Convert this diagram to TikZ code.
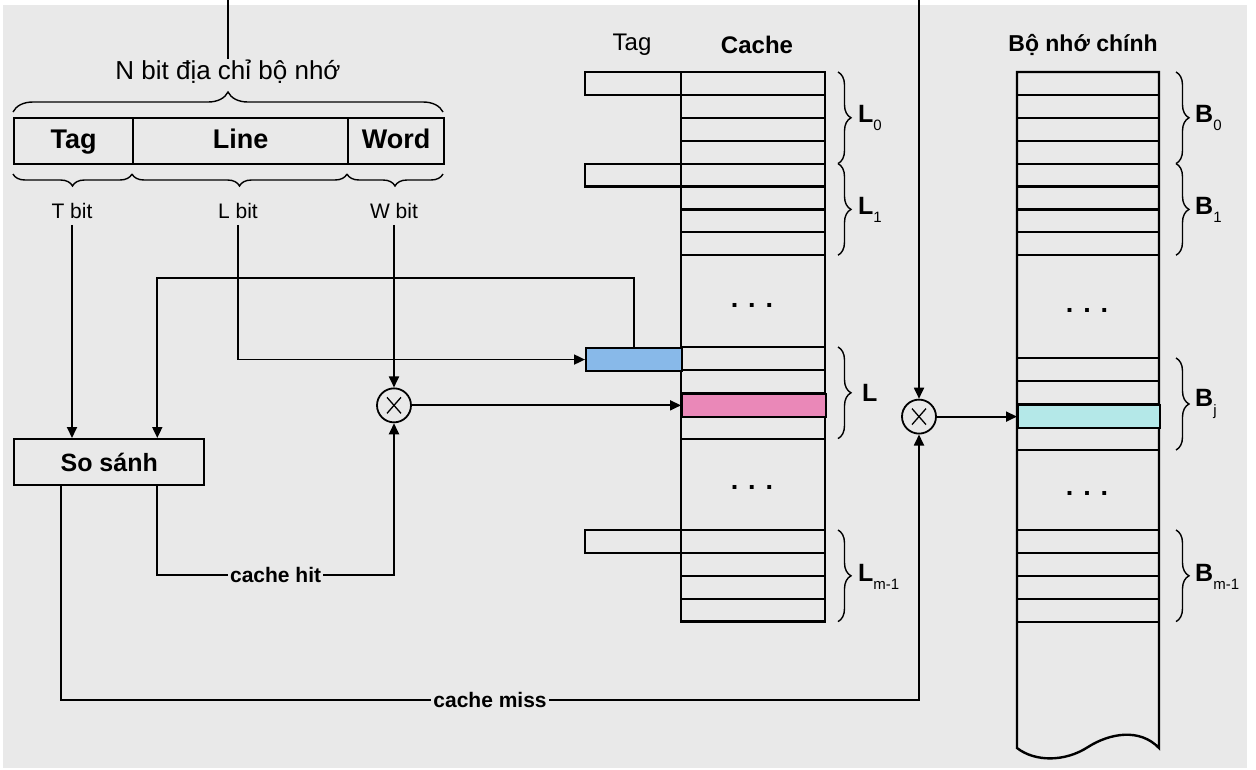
\documentclass[tikz,border=0pt]{standalone}
\usepackage{fontspec}
\setmainfont{Liberation Sans}
\usetikzlibrary{arrows.meta,calc,decorations.pathreplacing}
\definecolor{bg}{HTML}{E9E9E9}
\definecolor{pinkc}{HTML}{EA88B8}
\definecolor{bluec}{HTML}{88B9E9}
\definecolor{cyanc}{HTML}{B4E8E8}
\newcommand\sbx[1]{\raisebox{-0.35em}{\fontsize{15pt}{15pt}\selectfont\mdseries #1}}
\begin{document}
\begin{tikzpicture}[x=1pt,y=-1pt,
  ln/.style={line width=1.8pt},
  thk/.style={line width=2.4pt},
  arr/.style={line width=1.8pt,-{Triangle[length=11pt,width=10pt]}},
  brc/.style={line width=1.4pt,decorate,decoration={brace,amplitude=#1}},
  fld/.style={draw,line width=2.4pt,minimum height=46pt,inner sep=0pt,anchor=north west,text height=19.5pt,text depth=5.5pt,font=\bfseries\fontsize{27pt}{27pt}\selectfont},
  lab/.style={font=\fontsize{21pt}{21pt}\selectfont,inner sep=6pt},
  lbl/.style={fill=bg,inner sep=2pt,font=\bfseries\fontsize{21pt}{21pt}\selectfont},
  bl/.style={font=\bfseries\fontsize{25pt}{25pt}\selectfont,inner sep=0pt,anchor=west},
  hdr/.style={font=\fontsize{24pt}{24pt}\selectfont,inner sep=0pt},
  dots/.style={font=\bfseries\fontsize{27pt}{27pt}\selectfont,inner sep=0pt},
  row/.style={draw,line width=2.2pt,inner sep=0pt,anchor=north west,minimum height=22.9pt},
  mult/.style={circle,draw,line width=1.8pt,minimum size=34pt,inner sep=0pt,
    path picture={\draw[line width=1.3pt]
      ([shift={(-7pt,-8pt)}]path picture bounding box.center) -- ([shift={(7pt,8pt)}]path picture bounding box.center)
      ([shift={(-7pt,8pt)}]path picture bounding box.center) -- ([shift={(7pt,-8pt)}]path picture bounding box.center);}}
]
\fill[white] (0,0) rectangle (1256,769);
\useasboundingbox (0,0) rectangle (1256,769);
\fill[bg] (3,5) rectangle (1247,768);

% address fields
\node[fld,minimum width=119pt] (ftag) at (13,117) {Tag};
\node[fld,minimum width=215pt] (fline) at (132,117) {Line};
\node[fld,minimum width=96pt] (fword) at (347,117) {Word};
\node[font=\fontsize{26pt}{26pt}\selectfont,inner sep=1pt] (nbit) at (228,72) {N bit địa chỉ bộ nhớ};
\coordinate (in1) at (228,0);
\draw[ln] (in1) -- (nbit.north);
\draw[brc=20pt] (13,112) -- (443,112);
\draw[brc=12pt] (132,174) -- (13,174);
\draw[brc=12pt] (347,174) -- (132,174);
\draw[brc=12pt] (443,174) -- (347,174);
\node[lab] (tbit) at (72,211) {T bit};
\node[lab] (lbit) at (238,211) {L bit};
\node[lab] (wbit) at (394,211) {W bit};

% cache
\draw[thk] (681,72) rectangle (825,621.6);
\foreach \yy in {94.9,117.8,140.7,163.6,186.5,209.4,232.3,255.2,347,369.9,392.8,415.7,438.6,530,552.9,575.8,598.7}
  \draw[line width=2.2pt] (681,\yy) -- (825,\yy);
\draw[line width=2.2pt] (585,72) rectangle (681,94.9);
\draw[line width=2.2pt] (585,163.6) rectangle (681,186.5);
\draw[line width=2.2pt] (585,530) rectangle (681,552.9);
\node[row,fill=bluec,minimum width=96pt] (tagL) at (585,347) {};
\node[row,fill=pinkc,minimum width=144pt] (pink) at (681,392.8) {};
\node[dots] (cd1) at (752,305) {. . .};
\node[dots] (cd2) at (752,487) {. . .};
\node[hdr] (htag) at (632,45) {Tag};
\node[hdr,font=\bfseries\fontsize{24pt}{24pt}\selectfont] (hcache) at (757,45) {Cache};
\draw[brc=13pt] (838,72) -- (838,163.6);
\draw[brc=13pt] (838,163.6) -- (838,255.2);
\draw[brc=13pt] (838,347) -- (838,438.6);
\draw[brc=13pt] (838,530) -- (838,621.6);
\node[bl] (l0) at (858,118) {L\sbx{0}};
\node[bl] (l1) at (858,210) {L\sbx{1}};
\node[bl] (ll) at (862,393) {L};
\node[bl] (lm) at (858,577) {L\sbx{m-1}};

% main memory
\draw[thk] (1017,72) -- (1159,72) -- (1159,748)
  .. controls (1140,728) and (1110,733) .. (1088,747)
  .. controls (1065,762) and (1035,762) .. (1017,748) -- cycle;
\foreach \yy in {94.9,117.8,140.7,163.6,186.5,209.4,232.3,255.2,358,381,404,427,450,530,552.9,575.8,598.7,621.6}
  \draw[line width=2.2pt] (1017,\yy) -- (1159,\yy);
\node[row,fill=cyanc,minimum width=142pt,minimum height=23pt] (cyan) at (1017,404) {};
\node[dots] (md1) at (1087,310) {. . .};
\node[dots] (md2) at (1087,493) {. . .};
\node[hdr,font=\bfseries\fontsize{23pt}{23pt}\selectfont] (hmem) at (1083,45) {Bộ nhớ chính};
\draw[brc=13pt] (1176,72) -- (1176,163.6);
\draw[brc=13pt] (1176,163.6) -- (1176,255.2);
\draw[brc=13pt] (1176,358) -- (1176,450);
\draw[brc=13pt] (1176,530) -- (1176,621.6);
\node[bl] (b0) at (1195,118) {B\sbx{0}};
\node[bl] (b1) at (1195,210) {B\sbx{1}};
\node[bl] (bj) at (1195,404) {B\sbx{j}};
\node[bl] (bm) at (1195,577) {B\sbx{m-1}};

% compare box and multipliers
\node[draw,thk,minimum width=190pt,minimum height=46pt,anchor=north west,inner sep=0pt,font=\bfseries\fontsize{25pt}{25pt}\selectfont] (sosanh) at (13,438) {So sánh};
\coordinate (in2) at (919,0);
\node[mult] (mul1) at (wbit.south |- pink.west) {};
\node[mult] (mul2) at (in2 |- cyan.west) {};

% connectors
\coordinate (sA) at ($(sosanh.north west)!0.75!(sosanh.north east)$);
\coordinate (sB) at ($(sosanh.south west)!0.75!(sosanh.south east)$);
\coordinate (sC) at ($(sosanh.south west)!0.25!(sosanh.south east)$);
\coordinate (ty) at (0,278);
\coordinate (hity) at (0,575);
\coordinate (missy) at (0,700);
\draw[arr] (tbit.south) -- (tbit.south |- sosanh.north);
\draw[arr] (tagL.north) |- (sA |- ty) -- (sA);
\draw[arr] (lbit.south) |- (tagL.west);
\draw[arr] (wbit.south) -- (mul1.north);
\draw[arr] (mul1.east) -- (pink.west);
\draw[arr] (sB) |- node[pos=0.75,lbl] (hit) {cache hit} (mul1 |- hity) -- (mul1.south);
\draw[arr] (sC) |- node[pos=0.75,lbl] (miss) {cache miss} (mul2 |- missy) -- (mul2.south);
\draw[arr] (in2) -- (mul2.north);
\draw[arr] (mul2.east) -- (cyan.west);
\end{tikzpicture}
\end{document}
